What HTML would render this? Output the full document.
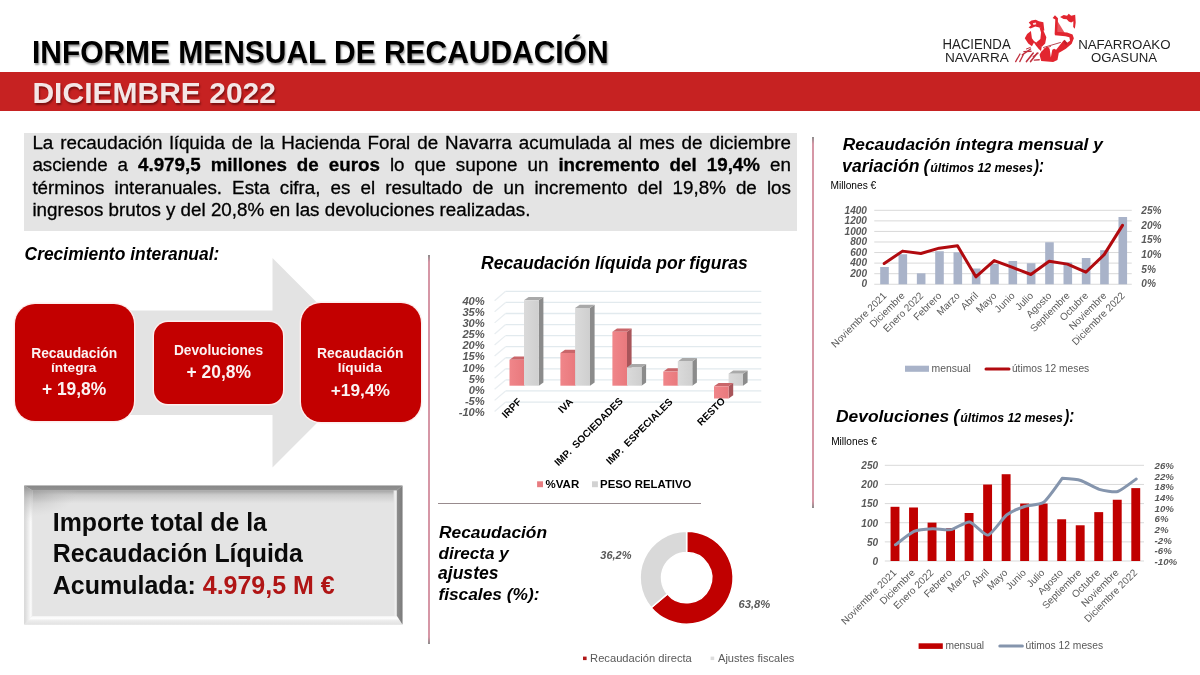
<!DOCTYPE html>
<html lang="es"><head><meta charset="utf-8"><title>Informe mensual de recaudación</title>
<style>
html,body{margin:0;padding:0;background:#fff;}
body{width:1200px;height:675px;position:relative;overflow:hidden;font-family:"Liberation Sans",sans-serif;color:#000;}
.abs{position:absolute;}
svg{position:absolute;left:0;top:0;overflow:visible;}
svg text{font-family:"Liberation Sans",sans-serif;}
.redbar{left:0;top:71.5px;width:1200px;height:39px;background:#c62222;}
.gbox{left:24px;top:132.5px;width:773px;height:98.2px;background:#e4e4e4;}
.gtext{-webkit-text-stroke:0.3px #000;}
.gtext .l{display:block;text-align:justify;text-align-last:justify;white-space:nowrap;}
.gtext .last{text-align-last:left;}
.rbox{background:#c30000;box-shadow:0 0 0 1.4px #fdeeee;}
.vline{width:2px;background:linear-gradient(#8c8c8c 0,#d697a6 7px,#d697a6 calc(100% - 7px),#8c8c8c 100%);}
</style></head><body><div id="pg" style="position:absolute;left:0;top:0;width:1200px;height:675px;will-change:transform;">

<div class="abs" style="left:31.95px;top:35px;font-size:29.94px;line-height:35px;white-space:nowrap;font-weight:bold;transform:scaleY(1.03);transform-origin:0 28px;text-shadow:1px 1.5px 2px rgba(0,0,0,.4);">INFORME MENSUAL DE RECAUDACIÓN</div>
<div class="abs redbar"></div>
<div class="abs" style="left:32.45px;top:75px;font-size:30.03px;line-height:35px;white-space:nowrap;font-weight:bold;color:#f4e6e6;transform:scaleY(1.01);transform-origin:0 28px;text-shadow:1px 1.5px 2px rgba(60,0,0,.55);">DICIEMBRE 2022</div>
<div class="abs gbox"></div>
<div class="abs gtext" style="left:32.4px;top:131.94px;width:758.5px;font-size:18.8px;line-height:22.3px;">
<span class="l">La recaudación líquida de la Hacienda Foral de Navarra acumulada al mes de diciembre</span>
<span class="l">asciende a <b>4.979,5 millones de euros</b> lo que supone un <b>incremento del 19,4%</b> en</span>
<span class="l">términos interanuales. Esta cifra, es el resultado de un incremento del 19,8% de los</span>
<span class="l last">ingresos brutos y del 20,8% en las devoluciones realizadas.</span>
</div>
<div class="abs vline" style="left:428px;top:254.5px;height:389.2px;"></div>
<div class="abs vline" style="left:812.2px;top:137.2px;height:370.7px;"></div>
<div class="abs" style="left:438.1px;top:502.8px;width:262.6px;height:1.3px;background:#988b8e;"></div>
<div class="abs" style="left:24.55px;top:243px;font-size:17.44px;line-height:22px;white-space:nowrap;font-weight:bold;font-style:italic;transform:scaleY(1.07);transform-origin:0 17px;">Crecimiento interanual:</div>
<svg width="1200" height="675" viewBox="0 0 1200 675">
<polygon points="120,310.4 272.5,310.4 272.5,258 377,362.7 272.5,467.4 272.5,415 120,415" fill="#e3e3e3"/>
</svg>
<div class="abs rbox" style="left:14.5px;top:304px;width:119.5px;height:117px;border-radius:20px;"></div>
<div class="abs rbox" style="left:154px;top:321.6px;width:129px;height:82.2px;border-radius:14px;"></div>
<div class="abs rbox" style="left:300.6px;top:303.3px;width:120px;height:118.7px;border-radius:20px;"></div>
<div class="abs" style="left:31.17px;top:344px;font-size:13.83px;line-height:18px;white-space:nowrap;font-weight:bold;color:#fbf3f3;">Recaudación</div>
<div class="abs" style="left:50.92px;top:359px;font-size:13.65px;line-height:17px;white-space:nowrap;font-weight:bold;color:#fbf3f3;">íntegra</div>
<div class="abs" style="left:41.9px;top:378px;font-size:17.43px;line-height:22px;white-space:nowrap;font-weight:bold;color:#fbf3f3;">+ 19,8%</div>
<div class="abs" style="left:173.88px;top:342px;font-size:13.72px;line-height:17px;white-space:nowrap;font-weight:bold;color:#fbf3f3;">Devoluciones</div>
<div class="abs" style="left:186.6px;top:361px;font-size:17.43px;line-height:22px;white-space:nowrap;font-weight:bold;color:#fbf3f3;">+ 20,8%</div>
<div class="abs" style="left:317.07px;top:344px;font-size:13.89px;line-height:18px;white-space:nowrap;font-weight:bold;color:#fbf3f3;">Recaudación</div>
<div class="abs" style="left:337.78px;top:359px;font-size:13.66px;line-height:17px;white-space:nowrap;font-weight:bold;color:#fbf3f3;">líquida</div>
<div class="abs" style="left:330.71px;top:379px;font-size:17.32px;line-height:22px;white-space:nowrap;font-weight:bold;color:#fbf3f3;">+19,4%</div>
<svg width="1200" height="675" viewBox="0 0 1200 675">
<defs>
<linearGradient id="bvT" x1="0" y1="0" x2="0" y2="1"><stop offset="0" stop-color="#878787"/><stop offset="1" stop-color="#929292"/></linearGradient>
<linearGradient id="bvT2" x1="0" y1="0" x2="0" y2="1"><stop offset="0" stop-color="#a2a2a2"/><stop offset=".35" stop-color="#cbcbcb"/><stop offset="1" stop-color="#e4e4e4"/></linearGradient>
<linearGradient id="bvL" x1="0" y1="0" x2="1" y2="0"><stop offset="0" stop-color="#d6d6d6"/><stop offset=".8" stop-color="#fafafa"/><stop offset="1" stop-color="#f2f2f2"/></linearGradient>
<linearGradient id="bvLt" x1="0" y1="0" x2="0" y2="1"><stop offset="0" stop-color="#8e8e8e" stop-opacity=".95"/><stop offset=".35" stop-color="#b0b0b0" stop-opacity=".6"/><stop offset="1" stop-color="#d0d0d0" stop-opacity="0"/></linearGradient>
<linearGradient id="bvR" x1="0" y1="0" x2="1" y2="0"><stop offset="0" stop-color="#8e8e8e"/><stop offset="1" stop-color="#7b7b7b"/></linearGradient>
<linearGradient id="bvR2" x1="0" y1="0" x2="1" y2="0"><stop offset="0" stop-color="#e4e4e4"/><stop offset=".6" stop-color="#f0f0f0"/><stop offset="1" stop-color="#c8c8c8"/></linearGradient>
<linearGradient id="bvB" x1="0" y1="0" x2="0" y2="1"><stop offset="0" stop-color="#f2f2f2"/><stop offset=".25" stop-color="#ffffff"/><stop offset=".55" stop-color="#ececec"/><stop offset="1" stop-color="#e2e2e2"/></linearGradient>
<radialGradient id="bvH" cx="0" cy="0" r="1"><stop offset="0" stop-color="#a0a0a0" stop-opacity=".75"/><stop offset="1" stop-color="#c8c8c8" stop-opacity="0"/></radialGradient>
</defs>
<rect x="24.2" y="485.6" width="378.3" height="139" fill="#e4e4e4"/>
<rect x="32.2" y="490.3" width="364.8" height="13" fill="url(#bvT2)"/>
<rect x="32.2" y="490.3" width="46" height="26" fill="url(#bvH)"/>
<rect x="393.6" y="490.3" width="3.6" height="126" fill="url(#bvR2)"/>
<polygon points="24.2,485.6 32.2,490.3 32.2,616 24.2,624.6" fill="url(#bvL)"/>
<polygon points="24.2,485.6 32.2,490.3 32.2,522 24.2,522" fill="url(#bvLt)"/>
<polygon points="24.2,624.6 32.2,616 397,616 402.5,624.6" fill="url(#bvB)"/>
<polygon points="402.5,485.6 402.5,624.6 397,616 397,490.3" fill="url(#bvR)"/>
<polygon points="24.2,485.6 402.5,485.6 397,490.3 32.2,490.3" fill="url(#bvT)"/>
</svg>
<div class="abs" style="left:52.81px;top:507px;font-size:24.87px;line-height:30px;white-space:nowrap;font-weight:bold;color:#0a0a0a;">Importe total de la</div>
<div class="abs" style="left:52.81px;top:538px;font-size:24.87px;line-height:30px;white-space:nowrap;font-weight:bold;color:#0a0a0a;">Recaudación Líquida</div>
<div class="abs" style="left:52.8px;top:570px;font-size:24.99px;line-height:30px;white-space:nowrap;font-weight:bold;color:#0a0a0a;">Acumulada: <span style="color:#b01515;">4.979,5 M €</span></div>
<div class="abs" style="left:481.07px;top:252px;font-size:17.53px;line-height:22px;white-space:nowrap;font-weight:bold;font-style:italic;transform:scaleY(1.06);transform-origin:0 17px;">Recaudación líquida por figuras</div>
<svg width="1200" height="675" viewBox="0 0 1200 675"><defs><linearGradient id="c3r" x1="0" y1="0" x2="1" y2="0"><stop offset="0" stop-color="#f0868a"/><stop offset="1" stop-color="#e9797d"/></linearGradient><linearGradient id="c3g" x1="0" y1="0" x2="1" y2="0"><stop offset="0" stop-color="#dadada"/><stop offset="1" stop-color="#cfcfcf"/></linearGradient></defs><path d="M494.6 411.44 L505.6 402.04" fill="none" stroke="#e9eef1" stroke-width="1.3"/><path d="M505.6 402.04 L761.3 402.04" fill="none" stroke="#e2eaee" stroke-width="1.3"/><path d="M494.6 400.37 L505.6 390.97" fill="none" stroke="#e9eef1" stroke-width="1.3"/><path d="M505.6 390.97 L761.3 390.97" fill="none" stroke="#e2eaee" stroke-width="1.3"/><path d="M494.6 389.3 L505.6 379.9" fill="none" stroke="#e9eef1" stroke-width="1.3"/><path d="M505.6 379.9 L761.3 379.9" fill="none" stroke="#e2eaee" stroke-width="1.3"/><path d="M494.6 378.23 L505.6 368.83" fill="none" stroke="#e9eef1" stroke-width="1.3"/><path d="M505.6 368.83 L761.3 368.83" fill="none" stroke="#e2eaee" stroke-width="1.3"/><path d="M494.6 367.16 L505.6 357.76" fill="none" stroke="#e9eef1" stroke-width="1.3"/><path d="M505.6 357.76 L761.3 357.76" fill="none" stroke="#e2eaee" stroke-width="1.3"/><path d="M494.6 356.09 L505.6 346.69" fill="none" stroke="#e9eef1" stroke-width="1.3"/><path d="M505.6 346.69 L761.3 346.69" fill="none" stroke="#e2eaee" stroke-width="1.3"/><path d="M494.6 345.02 L505.6 335.62" fill="none" stroke="#e9eef1" stroke-width="1.3"/><path d="M505.6 335.62 L761.3 335.62" fill="none" stroke="#e2eaee" stroke-width="1.3"/><path d="M494.6 333.95 L505.6 324.55" fill="none" stroke="#e9eef1" stroke-width="1.3"/><path d="M505.6 324.55 L761.3 324.55" fill="none" stroke="#e2eaee" stroke-width="1.3"/><path d="M494.6 322.88 L505.6 313.48" fill="none" stroke="#e9eef1" stroke-width="1.3"/><path d="M505.6 313.48 L761.3 313.48" fill="none" stroke="#e2eaee" stroke-width="1.3"/><path d="M494.6 311.81 L505.6 302.41" fill="none" stroke="#e9eef1" stroke-width="1.3"/><path d="M505.6 302.41 L761.3 302.41" fill="none" stroke="#e2eaee" stroke-width="1.3"/><path d="M494.6 300.74 L505.6 291.34" fill="none" stroke="#e9eef1" stroke-width="1.3"/><path d="M505.6 291.34 L761.3 291.34" fill="none" stroke="#e2eaee" stroke-width="1.3"/><polygon points="524,359.8 528.6,356.5 528.6,382.4 524,385.7" fill="#a8555a"/><polygon points="509.5,359.8 514.1,356.5 528.6,356.5 524,359.8" fill="#c9666a"/><rect x="509.5" y="359.8" width="14.5" height="25.9" fill="url(#c3r)"/><polygon points="538.8,300.3 543.4,297 543.4,382.4 538.8,385.7" fill="#8b8b8b"/><polygon points="524,300.3 528.6,297 543.4,297 538.8,300.3" fill="#a9a9a9"/><rect x="524" y="300.3" width="14.8" height="85.4" fill="url(#c3g)"/><polygon points="575.1,353 579.7,349.7 579.7,382.4 575.1,385.7" fill="#a8555a"/><polygon points="560.4,353 565,349.7 579.7,349.7 575.1,353" fill="#c9666a"/><rect x="560.4" y="353" width="14.7" height="32.7" fill="url(#c3r)"/><polygon points="590,308 594.6,304.7 594.6,382.4 590,385.7" fill="#8b8b8b"/><polygon points="575.1,308 579.7,304.7 594.6,304.7 590,308" fill="#a9a9a9"/><rect x="575.1" y="308" width="14.9" height="77.7" fill="url(#c3g)"/><polygon points="627,331.8 631.6,328.5 631.6,382.4 627,385.7" fill="#a8555a"/><polygon points="612.4,331.8 617,328.5 631.6,328.5 627,331.8" fill="#c9666a"/><rect x="612.4" y="331.8" width="14.6" height="53.9" fill="url(#c3r)"/><polygon points="641.5,367.4 646.1,364.1 646.1,382.4 641.5,385.7" fill="#8b8b8b"/><polygon points="627,367.4 631.6,364.1 646.1,364.1 641.5,367.4" fill="#a9a9a9"/><rect x="627" y="367.4" width="14.5" height="18.3" fill="url(#c3g)"/><polygon points="677.8,371.6 682.4,368.3 682.4,382.4 677.8,385.7" fill="#a8555a"/><polygon points="663.3,371.6 667.9,368.3 682.4,368.3 677.8,371.6" fill="#c9666a"/><rect x="663.3" y="371.6" width="14.5" height="14.1" fill="url(#c3r)"/><polygon points="692.3,361.4 696.9,358.1 696.9,382.4 692.3,385.7" fill="#8b8b8b"/><polygon points="677.8,361.4 682.4,358.1 696.9,358.1 692.3,361.4" fill="#a9a9a9"/><rect x="677.8" y="361.4" width="14.5" height="24.3" fill="url(#c3g)"/><polygon points="743,373.7 747.6,370.4 747.6,382.4 743,385.7" fill="#8b8b8b"/><polygon points="728.6,373.7 733.2,370.4 747.6,370.4 743,373.7" fill="#a9a9a9"/><rect x="728.6" y="373.7" width="14.4" height="12" fill="url(#c3g)"/><polygon points="728.6,386.3 733.2,383 733.2,395.2 728.6,398.5" fill="#a8555a"/><polygon points="714,386.3 718.6,383 733.2,383 728.6,386.3" fill="#c9666a"/><rect x="714" y="386.3" width="14.6" height="12.2" fill="url(#c3r)"/><text x="484.8" y="304.9" text-anchor="end" font-size="11.2" font-weight="bold" font-style="italic" fill="#595959">40%</text><text x="484.8" y="316.01" text-anchor="end" font-size="11.2" font-weight="bold" font-style="italic" fill="#595959">35%</text><text x="484.8" y="327.12" text-anchor="end" font-size="11.2" font-weight="bold" font-style="italic" fill="#595959">30%</text><text x="484.8" y="338.23" text-anchor="end" font-size="11.2" font-weight="bold" font-style="italic" fill="#595959">25%</text><text x="484.8" y="349.34" text-anchor="end" font-size="11.2" font-weight="bold" font-style="italic" fill="#595959">20%</text><text x="484.8" y="360.45" text-anchor="end" font-size="11.2" font-weight="bold" font-style="italic" fill="#595959">15%</text><text x="484.8" y="371.56" text-anchor="end" font-size="11.2" font-weight="bold" font-style="italic" fill="#595959">10%</text><text x="484.8" y="382.67" text-anchor="end" font-size="11.2" font-weight="bold" font-style="italic" fill="#595959">5%</text><text x="484.8" y="393.78" text-anchor="end" font-size="11.2" font-weight="bold" font-style="italic" fill="#595959">0%</text><text x="484.8" y="404.89" text-anchor="end" font-size="11.2" font-weight="bold" font-style="italic" fill="#595959">-5%</text><text x="484.8" y="416" text-anchor="end" font-size="11.2" font-weight="bold" font-style="italic" fill="#595959">-10%</text><text transform="translate(517.1 397.3) rotate(-45)" x="0" y="0" text-anchor="end" font-size="10.1" font-weight="bold" fill="#000" dominant-baseline="hanging" xml:space="preserve">IRPF</text><text transform="translate(568.6 397.3) rotate(-45)" x="0" y="0" text-anchor="end" font-size="10.1" font-weight="bold" fill="#000" dominant-baseline="hanging" xml:space="preserve">IVA</text><text transform="translate(618.4 396.6) rotate(-45)" x="0" y="0" text-anchor="end" font-size="10.1" font-weight="bold" fill="#000" dominant-baseline="hanging" xml:space="preserve">IMP.  SOCIEDADES</text><text transform="translate(668.2 397.3) rotate(-45)" x="0" y="0" text-anchor="end" font-size="10.1" font-weight="bold" fill="#000" dominant-baseline="hanging" xml:space="preserve">IMP.  ESPECIALES</text><text transform="translate(720.6 396.6) rotate(-45)" x="0" y="0" text-anchor="end" font-size="10.1" font-weight="bold" fill="#000" dominant-baseline="hanging" xml:space="preserve">RESTO</text><rect x="537.1" y="481.3" width="5.9" height="5.9" fill="#e87c80"/><rect x="592" y="481.3" width="5.9" height="5.9" fill="#d2d2d2"/></svg>
<div class="abs" style="left:545.57px;top:477px;font-size:11.51px;line-height:14px;white-space:nowrap;font-weight:bold;">%VAR</div>
<div class="abs" style="left:600.12px;top:477px;font-size:11.36px;line-height:14px;white-space:nowrap;font-weight:bold;">PESO RELATIVO</div>
<svg width="1200" height="675" viewBox="0 0 1200 675"><path d="M686.6 531.2 A46.5 46.5 0 1 1 651.15 607.79 L667.46 593.94 A25.1 25.1 0 1 0 686.6 552.6 Z" fill="#c00000" stroke="#fff" stroke-width="1.5" stroke-linejoin="round"/><path d="M651.15 607.79 A46.5 46.5 0 0 1 686.6 531.2 L686.6 552.6 A25.1 25.1 0 0 0 667.46 593.94 Z" fill="#d9d9d9" stroke="#fff" stroke-width="1.5" stroke-linejoin="round"/><rect x="583" y="656.6" width="3.6" height="3.5" fill="#b01818"/><rect x="710.6" y="656.6" width="3.6" height="3.5" fill="#dcdcdc"/></svg>
<div class="abs" style="left:600.3px;top:548px;font-size:10.97px;line-height:14px;white-space:nowrap;font-weight:bold;font-style:italic;color:#595959;">36,2%</div>
<div class="abs" style="left:738.55px;top:597px;font-size:11.17px;line-height:14px;white-space:nowrap;font-weight:bold;font-style:italic;color:#595959;">63,8%</div>
<div class="abs" style="left:439.03px;top:521px;font-size:17.37px;line-height:22px;white-space:nowrap;font-weight:bold;font-style:italic;">Recaudación</div>
<div class="abs" style="left:438.56px;top:543px;font-size:17.09px;line-height:21px;white-space:nowrap;font-weight:bold;font-style:italic;">directa y</div>
<div class="abs" style="left:438px;top:562px;font-size:17.57px;line-height:22px;white-space:nowrap;font-weight:bold;font-style:italic;">ajustes</div>
<div class="abs" style="left:438.38px;top:583px;font-size:17.34px;line-height:22px;white-space:nowrap;font-weight:bold;font-style:italic;">fiscales (%):</div>
<div class="abs" style="left:590.11px;top:651px;font-size:11.17px;line-height:14px;white-space:nowrap;color:#595959;">Recaudación directa</div>
<div class="abs" style="left:718px;top:651px;font-size:11.08px;line-height:14px;white-space:nowrap;color:#595959;">Ajustes fiscales</div>
<div class="abs" style="left:842.83px;top:133px;font-size:17.34px;line-height:22px;white-space:nowrap;font-weight:bold;font-style:italic;">Recaudación íntegra mensual y</div>
<div class="abs" style="left:842.12px;top:155px;font-size:17.62px;line-height:22px;white-space:nowrap;font-weight:bold;font-style:italic;">variación</div>
<div class="abs" style="left:923.48px;top:155px;font-size:17.5px;line-height:22px;white-space:nowrap;font-weight:bold;font-style:italic;">(</div>
<div class="abs" style="left:930.26px;top:160px;font-size:12.3px;line-height:16px;white-space:nowrap;font-weight:bold;font-style:italic;">últimos 12 meses</div>
<div class="abs" style="left:1033.94px;top:158px;font-size:14.87px;line-height:18px;white-space:nowrap;font-weight:bold;font-style:italic;transform:scaleY(1.2);transform-origin:0 14px;">):</div>
<div class="abs" style="left:830.43px;top:179px;font-size:10.19px;line-height:13px;white-space:nowrap;">Millones €</div>
<svg width="1200" height="675" viewBox="0 0 1200 675"><line x1="874.25" y1="284.25" x2="1131.75" y2="284.25" stroke="#d9d9d9" stroke-width="1"/><line x1="874.25" y1="273.69" x2="1131.75" y2="273.69" stroke="#d9d9d9" stroke-width="1"/><line x1="874.25" y1="263.12" x2="1131.75" y2="263.12" stroke="#d9d9d9" stroke-width="1"/><line x1="874.25" y1="252.56" x2="1131.75" y2="252.56" stroke="#d9d9d9" stroke-width="1"/><line x1="874.25" y1="241.99" x2="1131.75" y2="241.99" stroke="#d9d9d9" stroke-width="1"/><line x1="874.25" y1="231.43" x2="1131.75" y2="231.43" stroke="#d9d9d9" stroke-width="1"/><line x1="874.25" y1="220.86" x2="1131.75" y2="220.86" stroke="#d9d9d9" stroke-width="1"/><line x1="874.25" y1="210.3" x2="1131.75" y2="210.3" stroke="#d9d9d9" stroke-width="1"/><rect x="880.2" y="266.98" width="8.6" height="17.27" fill="#a9b3c9"/><rect x="898.53" y="254.25" width="8.6" height="30" fill="#a9b3c9"/><rect x="916.86" y="273.32" width="8.6" height="10.93" fill="#a9b3c9"/><rect x="935.19" y="251.24" width="8.6" height="33.01" fill="#a9b3c9"/><rect x="953.52" y="252.29" width="8.6" height="31.96" fill="#a9b3c9"/><rect x="971.85" y="268.51" width="8.6" height="15.74" fill="#a9b3c9"/><rect x="990.18" y="264.02" width="8.6" height="20.23" fill="#a9b3c9"/><rect x="1008.51" y="261.01" width="8.6" height="23.24" fill="#a9b3c9"/><rect x="1026.84" y="263.23" width="8.6" height="21.02" fill="#a9b3c9"/><rect x="1045.17" y="242.26" width="8.6" height="41.99" fill="#a9b3c9"/><rect x="1063.5" y="262.49" width="8.6" height="21.76" fill="#a9b3c9"/><rect x="1081.83" y="258" width="8.6" height="26.25" fill="#a9b3c9"/><rect x="1100.16" y="250.18" width="8.6" height="34.07" fill="#a9b3c9"/><rect x="1118.49" y="217.01" width="8.6" height="67.24" fill="#a9b3c9"/><polyline points="884.2,263.54 902.53,251.12 920.86,253.49 939.19,248.16 957.52,245.8 975.85,276.86 994.18,260.59 1012.51,267.39 1030.84,274.49 1049.17,261.18 1067.5,264.14 1085.83,272.24 1104.16,254.67 1122.49,225.39" fill="none" stroke="#b10a0f" stroke-width="3" stroke-linejoin="round" stroke-linecap="round"/><text x="867" y="287.3" text-anchor="end" font-size="10.1" font-weight="bold" font-style="italic" fill="#595959">0</text><text x="867" y="276.81" text-anchor="end" font-size="10.1" font-weight="bold" font-style="italic" fill="#595959">200</text><text x="867" y="266.33" text-anchor="end" font-size="10.1" font-weight="bold" font-style="italic" fill="#595959">400</text><text x="867" y="255.84" text-anchor="end" font-size="10.1" font-weight="bold" font-style="italic" fill="#595959">600</text><text x="867" y="245.36" text-anchor="end" font-size="10.1" font-weight="bold" font-style="italic" fill="#595959">800</text><text x="867" y="234.87" text-anchor="end" font-size="10.1" font-weight="bold" font-style="italic" fill="#595959">1000</text><text x="867" y="224.39" text-anchor="end" font-size="10.1" font-weight="bold" font-style="italic" fill="#595959">1200</text><text x="867" y="213.9" text-anchor="end" font-size="10.1" font-weight="bold" font-style="italic" fill="#595959">1400</text><text x="1141.3" y="287.3" font-size="10.1" font-weight="bold" font-style="italic" fill="#595959">0%</text><text x="1141.3" y="272.62" font-size="10.1" font-weight="bold" font-style="italic" fill="#595959">5%</text><text x="1141.3" y="257.94" font-size="10.1" font-weight="bold" font-style="italic" fill="#595959">10%</text><text x="1141.3" y="243.26" font-size="10.1" font-weight="bold" font-style="italic" fill="#595959">15%</text><text x="1141.3" y="228.58" font-size="10.1" font-weight="bold" font-style="italic" fill="#595959">20%</text><text x="1141.3" y="213.9" font-size="10.1" font-weight="bold" font-style="italic" fill="#595959">25%</text><text transform="translate(882.1 291.2) rotate(-45)" text-anchor="end" font-size="10" fill="#595959" dominant-baseline="hanging">Noviembre 2021</text><text transform="translate(900.43 291.2) rotate(-45)" text-anchor="end" font-size="10" fill="#595959" dominant-baseline="hanging">Diciembre</text><text transform="translate(918.76 291.2) rotate(-45)" text-anchor="end" font-size="10" fill="#595959" dominant-baseline="hanging">Enero 2022</text><text transform="translate(937.09 291.2) rotate(-45)" text-anchor="end" font-size="10" fill="#595959" dominant-baseline="hanging">Febrero</text><text transform="translate(955.42 291.2) rotate(-45)" text-anchor="end" font-size="10" fill="#595959" dominant-baseline="hanging">Marzo</text><text transform="translate(973.75 291.2) rotate(-45)" text-anchor="end" font-size="10" fill="#595959" dominant-baseline="hanging">Abril</text><text transform="translate(992.08 291.2) rotate(-45)" text-anchor="end" font-size="10" fill="#595959" dominant-baseline="hanging">Mayo</text><text transform="translate(1010.41 291.2) rotate(-45)" text-anchor="end" font-size="10" fill="#595959" dominant-baseline="hanging">Junio</text><text transform="translate(1028.74 291.2) rotate(-45)" text-anchor="end" font-size="10" fill="#595959" dominant-baseline="hanging">Julio</text><text transform="translate(1047.07 291.2) rotate(-45)" text-anchor="end" font-size="10" fill="#595959" dominant-baseline="hanging">Agosto</text><text transform="translate(1065.4 291.2) rotate(-45)" text-anchor="end" font-size="10" fill="#595959" dominant-baseline="hanging">Septiembre</text><text transform="translate(1083.73 291.2) rotate(-45)" text-anchor="end" font-size="10" fill="#595959" dominant-baseline="hanging">Octubre</text><text transform="translate(1102.06 291.2) rotate(-45)" text-anchor="end" font-size="10" fill="#595959" dominant-baseline="hanging">Noviembre</text><text transform="translate(1120.39 291.2) rotate(-45)" text-anchor="end" font-size="10" fill="#595959" dominant-baseline="hanging">Diciembre 2022</text><rect x="905" y="365.7" width="24" height="6.1" fill="#a9b3c9"/><line x1="986" y1="368.9" x2="1009" y2="368.9" stroke="#b10a0f" stroke-width="3" stroke-linecap="round"/></svg>
<div class="abs" style="left:931.58px;top:362px;font-size:10.42px;line-height:13px;white-space:nowrap;color:#595959;">mensual</div>
<div class="abs" style="left:1011.89px;top:362px;font-size:10.24px;line-height:13px;white-space:nowrap;color:#595959;">útimos 12 meses</div>
<div class="abs" style="left:836.03px;top:405px;font-size:17.4px;line-height:22px;white-space:nowrap;font-weight:bold;font-style:italic;">Devoluciones</div>
<div class="abs" style="left:953.16px;top:405px;font-size:18px;line-height:22px;white-space:nowrap;font-weight:bold;font-style:italic;">(</div>
<div class="abs" style="left:960.31px;top:410px;font-size:12.3px;line-height:16px;white-space:nowrap;font-weight:bold;font-style:italic;">últimos 12 meses</div>
<div class="abs" style="left:1064.16px;top:407px;font-size:15.15px;line-height:19px;white-space:nowrap;font-weight:bold;font-style:italic;transform:scaleY(1.21);transform-origin:0 15px;">):</div>
<div class="abs" style="left:831.19px;top:435px;font-size:10.15px;line-height:13px;white-space:nowrap;">Millones €</div>
<svg width="1200" height="675" viewBox="0 0 1200 675"><line x1="884.8" y1="561" x2="1144" y2="561" stroke="#d9d9d9" stroke-width="1"/><line x1="884.8" y1="541.86" x2="1144" y2="541.86" stroke="#d9d9d9" stroke-width="1"/><line x1="884.8" y1="522.72" x2="1144" y2="522.72" stroke="#d9d9d9" stroke-width="1"/><line x1="884.8" y1="503.58" x2="1144" y2="503.58" stroke="#d9d9d9" stroke-width="1"/><line x1="884.8" y1="484.44" x2="1144" y2="484.44" stroke="#d9d9d9" stroke-width="1"/><line x1="884.8" y1="465.3" x2="1144" y2="465.3" stroke="#d9d9d9" stroke-width="1"/><rect x="890.55" y="506.8" width="8.9" height="54.2" fill="#c00000"/><rect x="909.07" y="507.48" width="8.9" height="53.52" fill="#c00000"/><rect x="927.59" y="522.61" width="8.9" height="38.39" fill="#c00000"/><rect x="946.11" y="528.08" width="8.9" height="32.92" fill="#c00000"/><rect x="964.63" y="513" width="8.9" height="48" fill="#c00000"/><rect x="983.15" y="484.55" width="8.9" height="76.45" fill="#c00000"/><rect x="1001.67" y="474.22" width="8.9" height="86.78" fill="#c00000"/><rect x="1020.19" y="503.58" width="8.9" height="57.42" fill="#c00000"/><rect x="1038.71" y="503.58" width="8.9" height="57.42" fill="#c00000"/><rect x="1057.23" y="519.27" width="8.9" height="41.73" fill="#c00000"/><rect x="1075.75" y="525.28" width="8.9" height="35.72" fill="#c00000"/><rect x="1094.27" y="512.12" width="8.9" height="48.88" fill="#c00000"/><rect x="1112.79" y="499.75" width="8.9" height="61.25" fill="#c00000"/><rect x="1131.31" y="488.11" width="8.9" height="72.89" fill="#c00000"/><path d="M895.5 544.78 C897.35 543.46 910.32 533.09 914.02 531.49 C917.72 529.9 928.84 529.02 932.54 528.83 C936.24 528.65 947.36 530.32 951.06 529.63 C954.76 528.94 965.88 521.37 969.58 521.92 C973.28 522.47 984.4 535.8 988.1 535.11 C991.8 534.42 1002.92 517.9 1006.62 515.01 C1010.32 512.12 1021.44 507.51 1025.14 506.24 C1028.84 504.96 1039.96 505.04 1043.66 502.25 C1047.36 499.46 1062.18 478.33 1062.18 478.33 C1062.18 478.33 1077 479.35 1080.7 480.45 C1084.4 481.55 1095.52 488.23 1099.22 489.33 C1102.92 490.43 1114.04 492.52 1117.74 491.48 C1121.44 490.45 1134.41 480.24 1136.26 478.99" fill="none" stroke="#8595ad" stroke-width="3" stroke-linejoin="round" stroke-linecap="round"/><text x="878.2" y="564.9" text-anchor="end" font-size="10.1" font-weight="bold" font-style="italic" fill="#595959">0</text><text x="878.2" y="545.72" text-anchor="end" font-size="10.1" font-weight="bold" font-style="italic" fill="#595959">50</text><text x="878.2" y="526.54" text-anchor="end" font-size="10.1" font-weight="bold" font-style="italic" fill="#595959">100</text><text x="878.2" y="507.36" text-anchor="end" font-size="10.1" font-weight="bold" font-style="italic" fill="#595959">150</text><text x="878.2" y="488.18" text-anchor="end" font-size="10.1" font-weight="bold" font-style="italic" fill="#595959">200</text><text x="878.2" y="469" text-anchor="end" font-size="10.1" font-weight="bold" font-style="italic" fill="#595959">250</text><text x="1154.6" y="564.9" font-size="9.7" font-weight="bold" font-style="italic" fill="#595959">-10%</text><text x="1154.6" y="554.24" font-size="9.7" font-weight="bold" font-style="italic" fill="#595959">-6%</text><text x="1154.6" y="543.59" font-size="9.7" font-weight="bold" font-style="italic" fill="#595959">-2%</text><text x="1154.6" y="532.93" font-size="9.7" font-weight="bold" font-style="italic" fill="#595959">2%</text><text x="1154.6" y="522.28" font-size="9.7" font-weight="bold" font-style="italic" fill="#595959">6%</text><text x="1154.6" y="511.62" font-size="9.7" font-weight="bold" font-style="italic" fill="#595959">10%</text><text x="1154.6" y="500.97" font-size="9.7" font-weight="bold" font-style="italic" fill="#595959">14%</text><text x="1154.6" y="490.31" font-size="9.7" font-weight="bold" font-style="italic" fill="#595959">18%</text><text x="1154.6" y="479.66" font-size="9.7" font-weight="bold" font-style="italic" fill="#595959">22%</text><text x="1154.6" y="469" font-size="9.7" font-weight="bold" font-style="italic" fill="#595959">26%</text><text transform="translate(892 568.2) rotate(-45)" text-anchor="end" font-size="10" fill="#595959" dominant-baseline="hanging">Noviembre 2021</text><text transform="translate(910.52 568.2) rotate(-45)" text-anchor="end" font-size="10" fill="#595959" dominant-baseline="hanging">Diciembre</text><text transform="translate(929.04 568.2) rotate(-45)" text-anchor="end" font-size="10" fill="#595959" dominant-baseline="hanging">Enero 2022</text><text transform="translate(947.56 568.2) rotate(-45)" text-anchor="end" font-size="10" fill="#595959" dominant-baseline="hanging">Febrero</text><text transform="translate(966.08 568.2) rotate(-45)" text-anchor="end" font-size="10" fill="#595959" dominant-baseline="hanging">Marzo</text><text transform="translate(984.6 568.2) rotate(-45)" text-anchor="end" font-size="10" fill="#595959" dominant-baseline="hanging">Abril</text><text transform="translate(1003.12 568.2) rotate(-45)" text-anchor="end" font-size="10" fill="#595959" dominant-baseline="hanging">Mayo</text><text transform="translate(1021.64 568.2) rotate(-45)" text-anchor="end" font-size="10" fill="#595959" dominant-baseline="hanging">Junio</text><text transform="translate(1040.16 568.2) rotate(-45)" text-anchor="end" font-size="10" fill="#595959" dominant-baseline="hanging">Julio</text><text transform="translate(1058.68 568.2) rotate(-45)" text-anchor="end" font-size="10" fill="#595959" dominant-baseline="hanging">Agosto</text><text transform="translate(1077.2 568.2) rotate(-45)" text-anchor="end" font-size="10" fill="#595959" dominant-baseline="hanging">Septiembre</text><text transform="translate(1095.72 568.2) rotate(-45)" text-anchor="end" font-size="10" fill="#595959" dominant-baseline="hanging">Octubre</text><text transform="translate(1114.24 568.2) rotate(-45)" text-anchor="end" font-size="10" fill="#595959" dominant-baseline="hanging">Noviembre</text><text transform="translate(1132.76 568.2) rotate(-45)" text-anchor="end" font-size="10" fill="#595959" dominant-baseline="hanging">Diciembre 2022</text><rect x="918.6" y="643.3" width="24.2" height="5.6" fill="#c00000"/><line x1="999.8" y1="646" x2="1022.4" y2="646" stroke="#8595ad" stroke-width="3" stroke-linecap="round"/></svg>
<div class="abs" style="left:945.38px;top:639px;font-size:10.25px;line-height:13px;white-space:nowrap;color:#595959;">mensual</div>
<div class="abs" style="left:1025.48px;top:639px;font-size:10.27px;line-height:13px;white-space:nowrap;color:#595959;">útimos 12 meses</div>
<div class="abs" style="left:942.54px;top:36px;font-size:13.19px;line-height:17px;white-space:nowrap;color:#1f1f1f;transform:scaleY(1.05);transform-origin:0 13px;">HACIENDA</div>
<div class="abs" style="left:945.01px;top:49px;font-size:13.63px;line-height:17px;white-space:nowrap;color:#1f1f1f;transform:scaleY(1);transform-origin:0 13px;">NAVARRA</div>
<div class="abs" style="left:1078.14px;top:36px;font-size:13.3px;line-height:17px;white-space:nowrap;color:#1f1f1f;transform:scaleY(1.02);transform-origin:0 13px;">NAFARROAKO</div>
<div class="abs" style="left:1090.97px;top:49px;font-size:13.22px;line-height:17px;white-space:nowrap;color:#1f1f1f;transform:scaleY(1.01);transform-origin:0 13px;">OGASUNA</div>
<svg width="1200" height="675" viewBox="0 0 1200 675"><polygon points="1028.76,22.6 1031.41,20.61 1035.72,19.78 1038.88,21.28 1043.35,22.27 1044.35,30.4 1041.69,30.73 1040.37,27.74 1035.23,26.58 1030.58,28.41 1028.59,27.41 1031.08,25.26" fill="#e2252f"/><polygon points="1039.37,27.08 1043.19,29.9 1046.34,37.36 1045.18,43.5 1041.69,46.98 1038.05,44.83 1036.22,42.5 1040.37,39.02 1041.03,32.55" fill="#e2252f"/><polygon points="1027.1,33.88 1030.92,31.06 1031.91,38.19 1034.4,41.84 1031.91,46.15 1028.26,43.5 1024.78,38.36" fill="#e2252f"/><polygon points="1032.41,40.35 1036.22,42.5 1041.69,46.98 1041.03,50.96 1038.71,48.97 1035.72,45.16" fill="#e2252f"/><polygon points="1041.36,51.46 1047,46.48 1049.66,48.81 1050.82,57.6 1052.31,49.8 1054.13,48.64 1059.11,51.29 1057.45,60.08 1053.14,62.07 1041.2,60.91 1039.54,54.78" fill="#e2252f"/><polygon points="1055.13,50.96 1062.92,41.18 1064.08,40.51 1067.07,42.84 1070.05,40.85 1069.39,37.36 1065.41,36.2 1054.96,35.21 1055.29,31.72 1067.07,32.55 1072.54,34.54 1073.87,38.36 1071.71,43.67 1065.91,48.81 1059.11,52.79" fill="#e2252f"/><polygon points="1052.64,17.96 1054.96,15.31 1057.95,18.13 1057.45,34.05 1054.63,34.54 1055.29,19.62" fill="#e2252f"/><polygon points="1060.1,16.97 1063.75,14.98 1067.07,15.8 1068.73,13.65 1071.21,15.8 1075.19,14.81 1075.69,22.44 1074.86,28.74 1073.2,26.92 1073.37,21.28 1071.21,22.44 1068.73,21.44 1066.74,19.29 1063.59,18.96" fill="#e2252f"/><polygon points="1057.28,20.78 1065.08,33.38 1057.12,34.54" fill="#e2252f" opacity=".78"/><polygon points="1032.74,23.27 1035.72,22.44 1036.39,24.26 1033.57,25.09" fill="#fff" opacity=".85"/><polygon points="1062.92,41.18 1064.75,39.85 1067.57,43.17 1066.07,45.66" fill="#c51f2b"/><line x1="1043.52" y1="47.48" x2="1060.43" y2="42.5" stroke="#b03040" stroke-width="0.9" stroke-linecap="round"/><line x1="1043.85" y1="48.97" x2="1050.48" y2="46.48" stroke="#e2252f" stroke-width="0.9" stroke-linecap="round"/><line x1="1015.66" y1="61.58" x2="1019.97" y2="53.95" stroke="#c0313f" stroke-width="1.3" stroke-linecap="round"/><line x1="1019.8" y1="61.58" x2="1023.29" y2="54.78" stroke="#c0313f" stroke-width="1.3" stroke-linecap="round"/><line x1="1022.29" y1="54.94" x2="1030.58" y2="48.97" stroke="#c0313f" stroke-width="1.4" stroke-linecap="round"/><line x1="1023.95" y1="51.63" x2="1031.08" y2="51.29" stroke="#c0313f" stroke-width="1.4" stroke-linecap="round"/><line x1="1026.44" y1="61.58" x2="1033.24" y2="53.12" stroke="#c0313f" stroke-width="1.6" stroke-linecap="round"/><line x1="1030.58" y1="61.58" x2="1037.38" y2="53.12" stroke="#c0313f" stroke-width="1.6" stroke-linecap="round"/><line x1="1034.4" y1="60.08" x2="1039.21" y2="59.75" stroke="#c0313f" stroke-width="1.4" stroke-linecap="round"/><line x1="1033.24" y1="56.6" x2="1038.21" y2="53.12" stroke="#c0313f" stroke-width="1.2" stroke-linecap="round"/><line x1="1026.44" y1="48.97" x2="1030.25" y2="47.48" stroke="#c0313f" stroke-width="1.0" stroke-linecap="round"/></svg>
</div></body></html>
